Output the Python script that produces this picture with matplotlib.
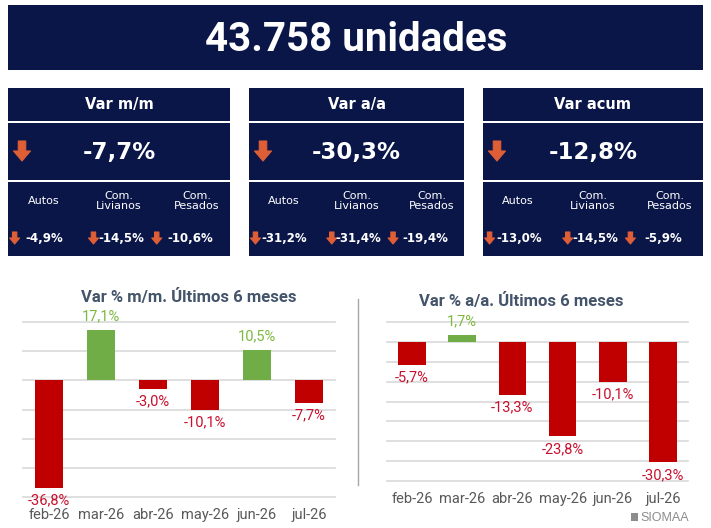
import matplotlib
matplotlib.use('Agg')
import matplotlib.pyplot as plt
from matplotlib.patches import Rectangle, Polygon

# data
total_units = 43758
months = ['feb-26', 'mar-26', 'abr-26', 'may-26', 'jun-26', 'jul-26']
var_mm = [-36.8, 17.1, -3.0, -10.1, 10.5, -7.7]
var_aa = [-5.7, 1.7, -13.3, -23.8, -10.1, -30.3]

panel_titles = ['Var m/m', 'Var a/a', 'Var acum']
panel_totals = [-7.7, -30.3, -12.8]
segments = ['Autos', 'Com.\nLivianos', 'Com.\nPesados']
seg_mm = [-4.9, -14.5, -10.6]
seg_aa = [-31.2, -31.4, -19.4]
seg_acum = [-13.0, -14.5, -5.9]
seg_values = [seg_mm, seg_aa, seg_acum]

NAVY = '#0A1548'
ARROW = '#DE5E36'
RED = '#C00000'
GREEN = '#70AD47'
RED_TXT = '#C8102E'
GREEN_TXT = '#7DB840'
GRID = '#D9D9D9'
TICK = '#595959'
TITLE = '#44546A'

plt.rcParams['font.family'] = ['Roboto', 'DejaVu Sans']


def pct(v):
    return '{:.1f}%'.format(v).replace('.', ',')


def down_arrow(ax, cx, cy, w, h):
    top, bot = cy - h / 2, cy + h / 2
    mid = cy
    pts = [(cx - 0.22 * w, top), (cx + 0.22 * w, top), (cx + 0.22 * w, mid),
           (cx + 0.5 * w, mid), (cx, bot), (cx - 0.5 * w, mid), (cx - 0.22 * w, mid)]
    ax.add_patch(Polygon(pts, closed=True, color=ARROW, lw=0.8, joinstyle='round'))


fig = plt.figure(figsize=(7.11, 5.28), dpi=100)

# dashboard overlay in pixel coords
ax0 = fig.add_axes([0, 0, 1, 1])
ax0.set_xlim(0, 711)
ax0.set_ylim(528, 0)
ax0.axis('off')

ax0.add_patch(Rectangle((8, 5), 695, 65, color=NAVY, lw=0))
ax0.text(356, 40, '{:,}'.format(total_units).replace(',', '.') + ' unidades',
         color='white', fontsize=29, fontweight='bold', family='Roboto',
         ha='center', va='center')

panel_x = [8, 249, 483]
panel_w = [222, 215, 220]
for i in range(3):
    x0, w = panel_x[i], panel_w[i]
    ax0.add_patch(Rectangle((x0, 88), w, 33, color=NAVY, lw=0))
    ax0.add_patch(Rectangle((x0, 123), w, 57, color=NAVY, lw=0))
    ax0.add_patch(Rectangle((x0, 182), w, 74, color=NAVY, lw=0))
    ax0.text(x0 + w / 2, 104.5, panel_titles[i], color='white', fontsize=10.5,
             fontweight='bold', family='DejaVu Sans', ha='center', va='center')
    down_arrow(ax0, x0 + 14, 151, 17, 20)
    ax0.text(x0 + w / 2, 152, pct(panel_totals[i]), color='white', fontsize=16.5,
             fontweight='bold', family='DejaVu Sans', ha='center', va='center')
    for j, seg in enumerate(segments):
        ax0.text(x0 + w * [0.16, 0.50, 0.85][j], 201, seg, color='white', fontsize=8,
                 family='DejaVu Sans', ha='center', va='center', linespacing=1.0)
        down_arrow(ax0, x0 + w * [0.03, 0.385, 0.67][j], 238, 10, 12)
        ax0.text(x0 + w * [0.165, 0.51, 0.82][j], 238.5, pct(seg_values[i][j]),
                 color='white', fontsize=8.5, fontweight='bold', family='DejaVu Sans',
                 ha='center', va='center')

# separator between charts
ax0.plot([357.5, 357.5], [299, 485], color='#A6A6A6', lw=1)

# SIOMAA mark
ax0.add_patch(Rectangle((631, 513), 7, 8, color='#8C8C8C', lw=0))
ax0.text(640, 518, 'SIOMAA', color='#8C8C8C', fontsize=9, family='Liberation Sans',
         ha='left', va='center')


def bar_chart(rect, values, ylim, step, title, title_xy, label_pad):
    ax = fig.add_axes(rect)
    ax.patch.set_alpha(0)
    x = range(len(values))
    colors = [GREEN if v >= 0 else RED for v in values]
    ax.bar(x, values, width=0.55, color=colors, zorder=3)
    for k in range(ylim[0], ylim[1] + 1, step):
        ax.axhline(k, color=GRID, lw=1.2, zorder=1, clip_on=False)
    for xi, v in zip(x, values):
        off = 10 if v >= 0 else -9
        ax.annotate(pct(v), (xi, v), xytext=(0, off), textcoords='offset points',
                    ha='center', va='center', fontsize=10.5,
                    color=GREEN_TXT if v >= 0 else RED_TXT, zorder=4)
    ax.set_xlim(-0.5, len(values) - 0.5)
    ax.set_ylim(*ylim)
    ax.set_yticks([])
    ax.set_xticks(list(x))
    ax.set_xticklabels(months, fontsize=10.5, color=TICK)
    ax.tick_params(axis='x', length=0, pad=label_pad)
    for s in ax.spines.values():
        s.set_visible(False)
    fig.text(title_xy[0] / 711, 1 - title_xy[1] / 528, title, fontsize=12,
             fontweight='bold', color=TITLE, ha='center', va='center')
    return ax


bar_chart([23 / 711, 1 - 497 / 528, 312 / 711, 175 / 528], var_mm, (-40, 20), 10,
          'Var % m/m. Últimos 6 meses', (188.5, 297), 8)
bar_chart([387 / 711, 1 - 481 / 528, 301 / 711, 159 / 528], var_aa, (-35, 5), 5,
          'Var % a/a. Últimos 6 meses', (521.5, 301), 8)

fig.savefig('out.png', dpi=100)
